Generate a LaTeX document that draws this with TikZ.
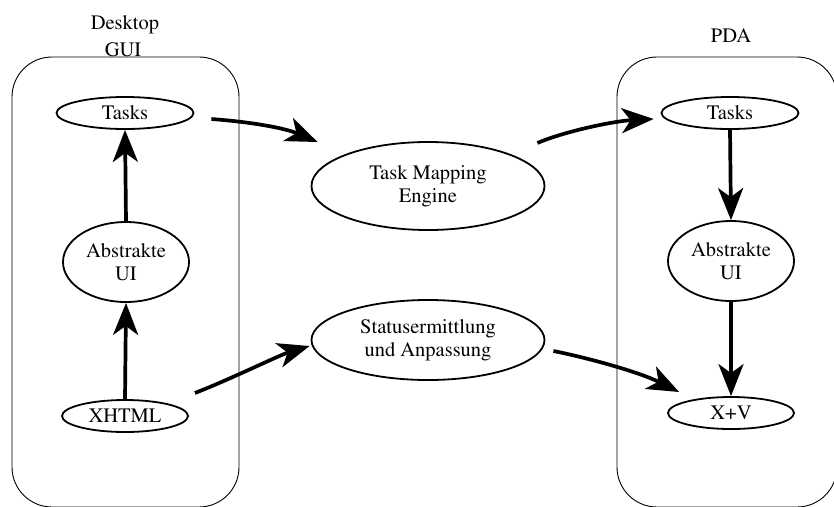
\documentclass[tikz,border=0pt]{standalone}
\usepackage[T1]{fontenc}
\usepackage{mathptmx}
\usetikzlibrary{shapes.geometric,arrows.meta}
\begin{document}
\begin{tikzpicture}[x=1pt,y=-1pt,
  font=\rmfamily\fontsize{20.5}{23}\selectfont,
  cluster/.style={draw,line width=0.9pt,rounded corners=40pt},
  oval/.style={draw,ellipse,line width=1.8pt,inner sep=0pt,align=center},
  small/.style={oval,minimum width=137pt,minimum height=32pt},
  mid/.style={oval,minimum width=126pt,minimum height=80pt},
  big/.style={oval,minimum width=233pt},
  edge/.style={line width=3.7pt,-{Stealth[length=32pt,width=25pt,inset=9pt]}},
  caption/.style={anchor=base,inner sep=0pt}]
\useasboundingbox (0,0) rectangle (834,506);
\clip (0,0) rectangle (834,506);

% clusters
\draw[cluster] (12,57) rectangle (239,507);
\draw[cluster] (617,57) rectangle (837,507);
\node[caption] (desk) at (125,29) {Desktop};
\node[caption] (gui)  at (123,56) {GUI};
\node[caption] (pda)  at (731,42) {PDA};

% desktop side
\node[small] (tl) at (125,113) {Tasks};
\node[mid]   (al) at (126,262) {Abstrakte\\UI};
\node[small,minimum width=126pt] (xh) at (125,416) {XHTML};

% middle
\node[big,minimum height=88pt] (tme)  at (428,186) {Task Mapping\\Engine};
\node[big,minimum height=80pt] (stat) at (428,340) {Statusermittlung\\und Anpassung};

% PDA side
\node[small] (tr) at (730,113) {Tasks};
\node[mid]   (ar) at (731,261) {Abstrakte\\UI};
\node[small,minimum width=126pt] (xv) at (731,413) {X+V};

% vertical edges
\draw[edge] (al.north) -- (tl.south);
\draw[edge] (xh.north) -- (al.south);
\draw[edge] (tr.south) -- (ar.north);
\draw[edge] (ar.south) -- (xv.north);

% mapping edges
\draw[edge] ([xshift=17pt,yshift=-6pt]tl.east) .. controls +(40,3) and +(-33,-14) .. ([xshift=7pt,yshift=44pt]tme.west);
\draw[edge] ([xshift=-8pt,yshift=43pt]tme.east) .. controls +(28,-12) and +(-39,2) .. ([xshift=-7pt,yshift=-6pt]tr.west);
\draw[edge] ([xshift=6pt,yshift=23pt]xh.east) .. controls +(36,-14) and +(-30,9) .. ([xshift=-1pt,yshift=-6pt]stat.west);
\draw[edge] ([xshift=8pt,yshift=-11pt]stat.east) .. controls +(35,7) and +(-40,-20) .. ([xshift=12pt,yshift=21pt]xv.west);
\end{tikzpicture}
\end{document}
